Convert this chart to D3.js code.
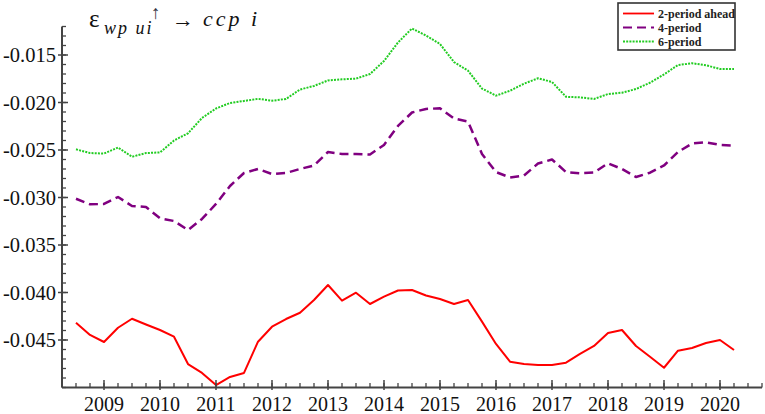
<!DOCTYPE html>
<html><head><meta charset="utf-8">
<script src="https://cdn.jsdelivr.net/npm/d3@7"></script>
<style>body{margin:0;background:#fff}svg{display:block}
svg text{font-family:"Liberation Serif","Times New Roman",serif}</style>
</head><body>
<svg id="c" width="765" height="414"></svg>
<script>
const periods = [2008.5,2008.75,2009,2009.25,2009.5,2009.75,2010,2010.25,2010.5,2010.75,2011,2011.25,
2011.5,2011.75,2012,2012.25,2012.5,2012.75,2013,2013.25,2013.5,2013.75,2014,2014.25,
2014.5,2014.75,2015,2015.25,2015.5,2015.75,2016,2016.25,2016.5,2016.75,2017,2017.25,
2017.5,2017.75,2018,2018.25,2018.5,2018.75,2019,2019.25,2019.5,2019.75,2020,2020.25];
const ahead2 = [-0.04318,-0.04447,-0.04521,-0.04371,-0.04276,-0.04337,-0.04395,-0.04465,-0.04753,-0.04847,-0.04974,-0.04889,
-0.04847,-0.04518,-0.04360,-0.04279,-0.04213,-0.04079,-0.03921,-0.04086,-0.04002,-0.04121,-0.04044,-0.03979,
-0.03974,-0.04032,-0.04068,-0.04121,-0.04079,-0.04307,-0.04542,-0.04728,-0.04753,-0.04763,-0.04763,-0.04739,
-0.04647,-0.04563,-0.04426,-0.04395,-0.04563,-0.04676,-0.04792,-0.04613,-0.04584,-0.04532,-0.04500,-0.04605];
const period4 = [-0.03013,-0.03072,-0.03068,-0.02995,-0.03089,-0.03100,-0.03219,-0.03247,-0.03342,-0.03226,-0.03068,-0.02879,
-0.02742,-0.02700,-0.02753,-0.02742,-0.02700,-0.02663,-0.02521,-0.02542,-0.02542,-0.02547,-0.02447,-0.02247,
-0.02105,-0.02068,-0.02061,-0.02168,-0.02200,-0.02542,-0.02732,-0.02789,-0.02768,-0.02642,-0.02600,-0.02732,
-0.02745,-0.02737,-0.02640,-0.02700,-0.02784,-0.02739,-0.02663,-0.02521,-0.02432,-0.02419,-0.02447,-0.02455];
const period6 = [-0.02493,-0.02532,-0.02537,-0.02474,-0.02571,-0.02532,-0.02526,-0.02400,-0.02324,-0.02163,-0.02063,-0.02005,
-0.01984,-0.01961,-0.01981,-0.01963,-0.01863,-0.01826,-0.01768,-0.01756,-0.01749,-0.01700,-0.01563,-0.01368,
-0.01221,-0.01295,-0.01384,-0.01574,-0.01665,-0.01853,-0.01928,-0.01876,-0.01802,-0.01745,-0.01784,-0.01940,
-0.01946,-0.01963,-0.01911,-0.01897,-0.01858,-0.01792,-0.01705,-0.01605,-0.01587,-0.01608,-0.01647,-0.01647];
const yearTicks = [2009,2010,2011,2012,2013,2014,2015,2016,2017,2018,2019,2020];
const yTickValues = [-0.045,-0.040,-0.035,-0.030,-0.025,-0.020,-0.015];
const seriesNames = ["2-period ahead","4-period","6-period"];

const svg = d3.select("#c");
const x = d3.scaleLinear().domain([2008.25, 2020.75]).range([62, 762]);
const y = d3.scaleLinear().domain([-0.050, -0.012]).range([387.5, 26.5]);
const axisColor = "#444";

// Lines
const series = [
  {name: seriesNames[0], vals: ahead2, color: "#ff0000", dash: null, w: 2},
  {name: seriesNames[1], vals: period4, color: "#800080", dash: "9,5", w: 2.5},
  {name: seriesNames[2], vals: period6, color: "#22cc22", dash: "2,1.2", w: 2}
];
const line = d3.line().x(d => x(d[0])).y(d => y(d[1]));
series.forEach(s => {
  svg.append("path")
    .datum(periods.map((p, i) => [p, s.vals[i]]))
    .attr("d", line).attr("fill", "none")
    .attr("stroke", s.color).attr("stroke-width", s.w)
    .attr("stroke-dasharray", s.dash)
    .attr("stroke-linejoin", "round");
});

// Y axis
const yAxisG = svg.append("g");
yAxisG.append("line").attr("x1", 62).attr("x2", 62).attr("y1", y(-0.012)).attr("y2", y(-0.050))
  .attr("stroke", axisColor).attr("stroke-width", 2);
const yMinor = d3.range(-50, -11).map(v => v / 1000);
yAxisG.selectAll(".ym").data(yMinor).enter().append("line")
  .attr("x1", 62).attr("x2", 66).attr("y1", d => y(d)).attr("y2", d => y(d))
  .attr("stroke", axisColor).attr("stroke-width", 1.3);
yAxisG.selectAll(".yM").data(yTickValues).enter().append("line")
  .attr("x1", 58).attr("x2", 68).attr("y1", d => y(d)).attr("y2", d => y(d))
  .attr("stroke", axisColor).attr("stroke-width", 1.5);
yAxisG.selectAll(".yl").data(yTickValues).enter().append("text")
  .attr("x", 56).attr("y", d => y(d) + 7)
  .attr("text-anchor", "end").style("font-size", "20.5px")
  .attr("fill", "#111").text(d => d3.format(".3f")(d).replace("−", "-"));

// X axis
const xAxisG = svg.append("g");
xAxisG.append("line").attr("x1", 62).attr("x2", 762).attr("y1", 387.5).attr("y2", 387.5)
  .attr("stroke", axisColor).attr("stroke-width", 2);
const xMinor = d3.range(2008.25, 2020.76, 0.25);
xAxisG.selectAll(".xm").data(xMinor).enter().append("line")
  .attr("x1", d => x(d)).attr("x2", d => x(d)).attr("y1", 387.5).attr("y2", 383)
  .attr("stroke", axisColor).attr("stroke-width", 1.3);
xAxisG.selectAll(".xM").data(yearTicks).enter().append("line")
  .attr("x1", d => x(d)).attr("x2", d => x(d)).attr("y1", 390).attr("y2", 380)
  .attr("stroke", axisColor).attr("stroke-width", 1.5);
xAxisG.selectAll(".xl").data(yearTicks).enter().append("text")
  .attr("x", d => x(d)).attr("y", 411)
  .attr("text-anchor", "middle").style("font-size", "20px")
  .attr("fill", "#111").text(d => d);

// Title
const tg = svg.append("g").attr("fill", "#111");
tg.append("text").attr("x", 89).attr("y", 27).style("font-size", "25px").text("ε");
tg.append("text").attr("x", 104).attr("y", 34).style("font-size", "18px").style("font-style", "italic")
  .attr("letter-spacing", 2).text("wp ui");
tg.append("text").attr("x", 151).attr("y", 19).style("font-size", "19px").attr("fill", "#334").text("↑");
tg.append("text").attr("x", 172).attr("y", 27).style("font-size", "22px").text("→");
tg.append("text").attr("x", 203).attr("y", 26).style("font-size", "22px").style("font-style", "italic")
  .attr("letter-spacing", 3).text("ccp i");

// Legend
const lg = svg.append("g");
lg.append("rect").attr("x", 618).attr("y", 3).attr("width", 117).attr("height", 47)
  .attr("fill", "#fff").attr("stroke", "#333").attr("stroke-width", 1.6);
series.forEach((s, i) => {
  const yy = 13.5 + i * 14;
  lg.append("line").attr("x1", 623).attr("x2", 654).attr("y1", yy).attr("y2", yy)
    .attr("stroke", s.color).attr("stroke-width", s.w === 2.5 ? 2.2 : 1.8).attr("stroke-dasharray", s.dash);
  lg.append("text").attr("x", 658).attr("y", yy + 4.5)
    .style("font-size", "12px").style("font-weight", "bold").attr("fill", "#222").text(s.name);
});
</script>
</body></html>
